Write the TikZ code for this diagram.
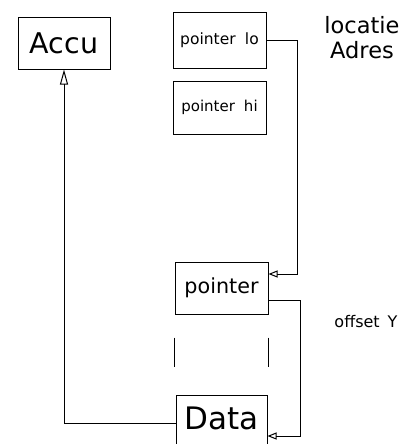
\documentclass[tikz,border=0pt]{standalone}
\usepackage{fontspec}
\setmainfont{DejaVu Sans}
\usetikzlibrary{positioning, arrows.meta}

\newcommand{\fsz}[1]{\fontsize{#1}{#1}\selectfont}

\begin{document}
\begin{tikzpicture}[
        x=1pt, y=-1pt,
        line width=1pt,
        regbox/.style={
          rectangle, draw, minimum width=93pt, minimum height=53pt,
          inner sep=0pt
        },
        flow/.style={-{Triangle[open, length=9pt, width=7pt]}},
        bigflow/.style={-{Triangle[open, length=15pt, width=8pt]}}
      ]
      \clip (0,0) rectangle (412,444);

      % --- REGISTERS ---
      \node[regbox, minimum width=92pt, minimum height=51pt, font=\fsz{28.5}] (accu) at (64,43.5) {Accu};
      \node[regbox, minimum height=55pt, font=\fsz{15.5}] (plo) at (219.5,40.5) {pointer\hspace{0.6em}lo};
      \node[regbox, below=12pt of plo, font=\fsz{15}] (phi) {pointer\hspace{0.6em}hi};
      \node[regbox, below=127pt of phi, xshift=2pt, minimum height=52pt, font=\fsz{20.7}] (ptr) {pointer};
      \node[regbox, below=80pt of ptr, minimum width=91pt, text height=23pt, text depth=31pt,
        inner ysep=11pt, font=\fsz{31}] (data) {Data};

      % --- LABELS ---
      \node[font=\fontsize{22.5}{25}\selectfont, align=center, inner sep=0pt, anchor=north] (addr) at (362,16) {locatie\\Adres};
      \node[font=\fsz{16}, inner sep=0pt] (offs) at (366,322) {offset\hspace{0.5em}Y};

      % --- ADDRESSING ---
      \draw[flow] (plo.east) -- ++(31,0) |- ([yshift=14pt]ptr.east);
      \draw[flow] ([yshift=-12pt]ptr.east) -- ++(32,0) |- ([yshift=-3pt]data.east);
      \draw[bigflow] ([yshift=10pt]data.west) -| (accu.south);

      % gap between pointer and data
      \draw ([yshift=-23pt]ptr.south west) -- ++(0,29);
      \draw ([yshift=-23pt]ptr.south east) -- ++(0,29);

    \end{tikzpicture}
\end{document}
